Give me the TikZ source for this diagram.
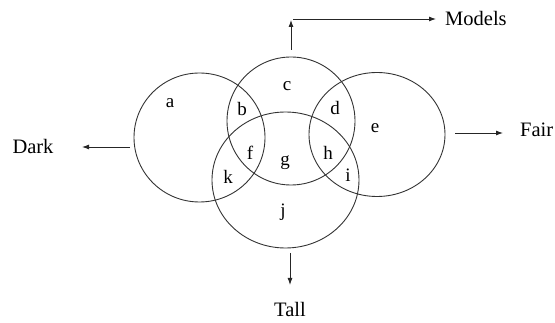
\documentclass[tikz,border=0pt]{standalone}
\usepackage{fontspec}
\setmainfont{Liberation Serif}
\usetikzlibrary{arrows.meta}
\begin{document}
\begin{tikzpicture}[x=1pt,y=-1pt,
  set/.style={draw=black!80,line width=0.9pt},
  lab/.style={font=\fontsize{19}{22}\selectfont,inner sep=0pt},
  bigname/.style={font=\fontsize{20.5}{24}\selectfont,inner sep=0pt},
  arr/.style={draw=black!85,line width=0.9pt,-{Latex[length=7pt,width=5pt]}}]
\useasboundingbox (0,0) rectangle (555,323);
% sets
\draw[set] (199.5,137.5) ellipse [x radius=65.5,y radius=64.5];
\draw[set] (291,121) ellipse [x radius=64,y radius=64];
\draw[set] (377,134.5) ellipse [x radius=68,y radius=62];
\draw[set] (285.5,180) ellipse [x radius=73.5,y radius=68];
% anchor coordinates
\coordinate (topc) at (291,50);
\coordinate (leftc) at (130,147);
\coordinate (leftend) at (82,147);
\coordinate (rightc) at (455,133);
\coordinate (rightend) at (503,133);
\coordinate (botc) at (290,253);
\coordinate (botend) at (290,285);
\coordinate (corner) at (291,20);
\coordinate (cornerR) at (293,19);
\coordinate (modend) at (436,19);
% labels
\node[lab] (a) at (170,103) {a};
\node[lab] (b) at (242,109) {b};
\node[lab] (c) at (287,86) {c};
\node[lab] (d) at (335,108) {d};
\node[lab] (e) at (375,128) {e};
\node[lab] (f) at (250,153) {f};
\node[lab] (g) at (285,163) {g};
\node[lab] (h) at (328,153) {h};
\node[lab] (i) at (348,175) {i};
\node[lab] (k) at (228,177) {k};
\node[lab] (j) at (283,212) {j};
% names
\node[bigname,anchor=west] (models) at (445,18) {Models};
\node[bigname] (dark) at (33,146) {Dark};
\node[bigname,anchor=west] (fair) at (520,130) {Fair};
\node[bigname] (tall) at (290,309) {Tall};
% arrows
\draw[arr] (topc) -- (corner);
\draw[arr] (cornerR) -- (modend);
\draw[arr] (leftc) -- (leftend);
\draw[arr] (rightc) -- (rightend);
\draw[arr] (botc) -- (botend);
\end{tikzpicture}
\end{document}
